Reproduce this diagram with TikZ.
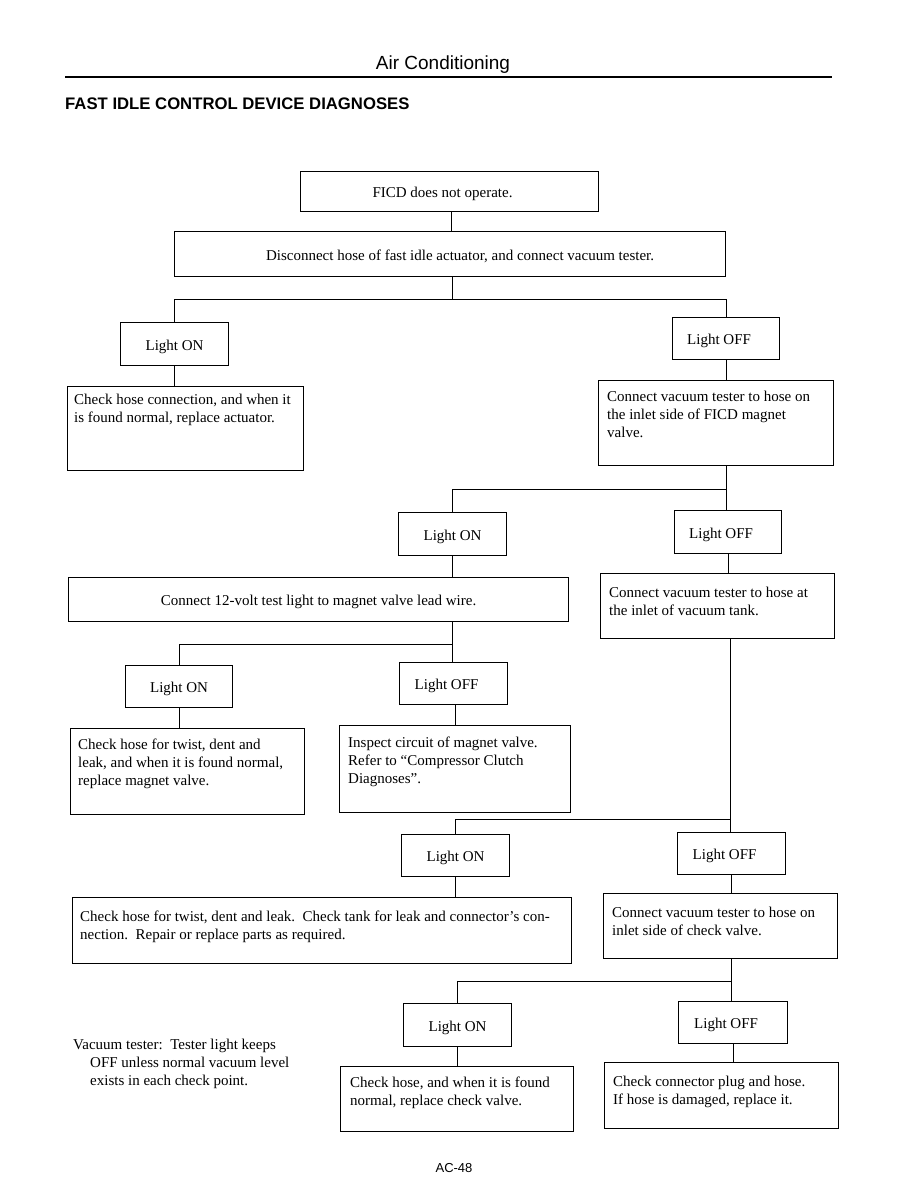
\documentclass[tikz,border=0pt]{standalone}
\usepackage{fontspec}
\setmainfont{Liberation Serif}
\newfontfamily\hdsans{Liberation Sans}
\begin{document}
\begin{tikzpicture}[x=1pt,y=-1pt,
  box/.style={draw, line width=1.1pt, rectangle, anchor=north west, inner sep=0pt},
  lbl/.style={font=\fontsize{15}{18}\selectfont, inner sep=0pt, yshift=-2.5},
  para/.style={font=\fontsize{15}{18}\selectfont, inner sep=0pt, anchor=north west, align=left},
  conn/.style={line width=1.1pt}]
\useasboundingbox (0,0) rectangle (918,1188);
% header
\node[font=\hdsans\fontsize{19}{22}\selectfont, inner sep=0pt] (hdr) at (443,65) {Air Conditioning};
\coordinate (rl) at (65,77);
\coordinate (rr) at (832,77);
\draw[line width=2.2pt] (rl) -- (rr);
\node[font=\hdsans\bfseries\fontsize{16.7}{20}\selectfont, anchor=west, inner sep=0pt] (ttl) at (65,104) {FAST IDLE CONTROL DEVICE DIAGNOSES};
% boxes
\node[box, minimum width=298, minimum height=40] (ficd) at (300,171) {};
\node[lbl] at ([xshift=-7]ficd.center) {FICD does not operate.};
\node[box, minimum width=551, minimum height=45] (disc) at (174,231) {};
\node[lbl] at ([xshift=10]disc.center) {Disconnect hose of fast idle actuator, and connect vacuum tester.};
\node[box, minimum width=108, minimum height=43] (lon1) at (120,322) {};
\node[lbl] at (lon1.center) {Light ON};
\node[box, minimum width=107, minimum height=42] (loff1) at (672,317) {};
\node[lbl] at ([xshift=-7]loff1.center) {Light OFF};
\node[box, minimum width=236, minimum height=84] (chk1) at (67,386) {};
\node[para] at ([xshift=7,yshift=-8]chk1.north west) {Check hose connection, and when it\\is found normal, replace actuator.};
\node[box, minimum width=235, minimum height=85] (cv1) at (598,380) {};
\node[para] at ([xshift=9,yshift=-11]cv1.north west) {Connect vacuum tester to hose on\\the inlet side of FICD magnet\\valve.};
\node[box, minimum width=108, minimum height=43] (lon2) at (398,512) {};
\node[lbl] at (lon2.center) {Light ON};
\node[box, minimum width=107, minimum height=43] (loff2) at (674,510) {};
\node[lbl] at ([xshift=-7]loff2.center) {Light OFF};
\node[box, minimum width=500, minimum height=44] (volt) at (68,577) {};
\node[lbl] at (volt.center) {Connect 12-volt test light to magnet valve lead wire.};
\node[box, minimum width=234, minimum height=65] (cv2) at (600,573) {};
\node[para] at ([xshift=9,yshift=-14]cv2.north west) {Connect vacuum tester to hose at\\the inlet of vacuum tank.};
\node[box, minimum width=107, minimum height=42] (lon3) at (125,665) {};
\node[lbl] at (lon3.center) {Light ON};
\node[box, minimum width=108, minimum height=42] (loff3) at (399,662) {};
\node[lbl] at ([xshift=-7]loff3.center) {Light OFF};
\node[box, minimum width=234, minimum height=86] (chk2) at (70,728) {};
\node[para] at ([xshift=8,yshift=-11]chk2.north west) {Check hose for twist, dent and\\leak, and when it is found normal,\\replace magnet valve.};
\node[box, minimum width=231, minimum height=87] (insp) at (339,725) {};
\node[para] at ([xshift=9,yshift=-12]insp.north west) {Inspect circuit of magnet valve.\\Refer to ``Compressor Clutch\\Diagnoses''.};
\node[box, minimum width=108, minimum height=42] (lon4) at (401,834) {};
\node[lbl] at (lon4.center) {Light ON};
\node[box, minimum width=108, minimum height=42] (loff4) at (677,832) {};
\node[lbl] at ([xshift=-7]loff4.center) {Light OFF};
\node[box, minimum width=499, minimum height=66] (chk3) at (72,897) {};
\node[para] at ([xshift=8,yshift=-14]chk3.north west) {Check hose for twist, dent and leak.\ \ Check tank for leak and connector's con-\\nection.\ \ Repair or replace parts as required.};
\node[box, minimum width=234, minimum height=65] (cv3) at (603,893) {};
\node[para] at ([xshift=9,yshift=-14]cv3.north west) {Connect vacuum tester to hose on\\inlet side of check valve.};
\node[box, minimum width=108, minimum height=43] (lon5) at (403,1003) {};
\node[lbl] at (lon5.center) {Light ON};
\node[box, minimum width=109, minimum height=42] (loff5) at (678,1001) {};
\node[lbl] at ([xshift=-7]loff5.center) {Light OFF};
\node[box, minimum width=233, minimum height=65] (chk4) at (340,1066) {};
\node[para] at ([xshift=10,yshift=-11]chk4.north west) {Check hose, and when it is found\\normal, replace check valve.};
\node[box, minimum width=234, minimum height=66] (plug) at (604,1062) {};
\node[para] at ([xshift=9,yshift=-14]plug.north west) {Check connector plug and hose.\\If hose is damaged, replace it.};
% note
\node[para] (note) at (73,1039) {Vacuum tester:\ \ Tester light keeps\\\hspace*{17pt}OFF unless normal vacuum level\\\hspace*{17pt}exists in each check point.};
% page number
\node[font=\hdsans\fontsize{13}{15}\selectfont, inner sep=0pt] (pg) at (454,1168) {AC-48};
% connectors
\draw[conn] ([xshift=2]ficd.south) -- ([xshift=2]ficd.south |- disc.north);
\draw[conn] ([xshift=2]disc.south) -- ++(0,22) coordinate (b1);
\draw[conn] (b1) -| (lon1.north);
\draw[conn] (b1) -| (loff1.north);
\draw[conn] (lon1.south) -- (lon1.south |- chk1.north);
\draw[conn] (loff1.south) -- (loff1.south |- cv1.north);
\draw[conn] (loff1.south |- cv1.south) -- ++(0,23) coordinate (b2);
\draw[conn] (b2) -| (lon2.north);
\draw[conn] (b2) -- (b2 |- loff2.north);
\draw[conn] (lon2.south) -- (lon2.south |- volt.north);
\draw[conn] (loff2.south) -- (loff2.south |- cv2.north);
\draw[conn] (lon2.south |- volt.south) -- ++(0,22) coordinate (b3);
\draw[conn] (b3) -| (lon3.north);
\draw[conn] (b3) -- (b3 |- loff3.north);
\draw[conn] (lon3.south) -- (lon3.south |- chk2.north);
\draw[conn] ([xshift=2]loff3.south) -- ([xshift=2]loff3.south |- insp.north);
\draw[conn] ([xshift=2]loff2.south |- cv2.south) -- ++(0,180) coordinate (b4);
\draw[conn] (b4) -| (lon4.north);
\draw[conn] (b4) -- (b4 |- loff4.north);
\draw[conn] (lon4.south) -- (lon4.south |- chk3.north);
\draw[conn] (loff4.south) -- (loff4.south |- cv3.north);
\draw[conn] (loff4.south |- cv3.south) -- ++(0,22) coordinate (b5);
\draw[conn] (b5) -| (lon5.north);
\draw[conn] (b5) -- (b5 |- loff5.north);
\draw[conn] (lon5.south) -- (lon5.south |- chk4.north);
\draw[conn] (loff5.south) -- (loff5.south |- plug.north);
\end{tikzpicture}
\end{document}
